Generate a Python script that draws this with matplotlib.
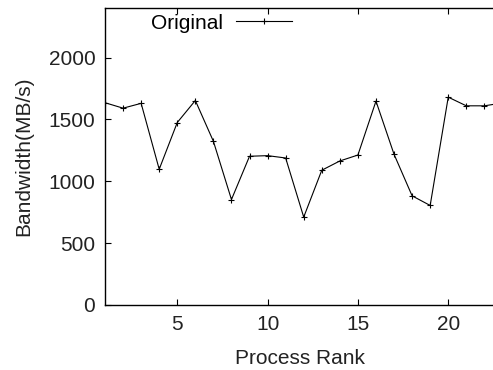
import matplotlib
matplotlib.use('Agg')
import matplotlib.pyplot as plt

plt.rcParams['font.family'] = ['Liberation Sans', 'DejaVu Sans']

rank = [1, 2, 3, 4, 5, 6, 7, 8, 9, 10, 11, 12, 13, 14, 15, 16, 17, 18, 19, 20, 21, 22, 23]
bandwidth = [1635, 1591, 1630, 1097, 1475, 1653, 1323, 852, 1202, 1207, 1188, 710,
             1089, 1164, 1212, 1648, 1218, 882, 804, 1680, 1610, 1610, 1633]

fig = plt.figure(figsize=(4.93, 3.7), dpi=100)
ax = fig.add_axes([0.213, 0.176, 0.79, 0.802])

ax.plot(rank, bandwidth, color='black', lw=0.8, marker='+', ms=5, mew=0.8, label='Original')

ax.set_xlim(1, 22.56)
ax.set_ylim(0, 2400)
ax.set_xticks([5, 10, 15, 20])
ax.set_yticks([0, 500, 1000, 1500, 2000])
ax.tick_params(direction='in', labelsize=15, top=True, length=4, width=0.8, pad=7, colors='black')
ax.tick_params(axis='both', labelcolor='#222222')
ax.spines['right'].set_visible(False)
for s in ['left', 'top', 'bottom']:
    ax.spines[s].set_linewidth(1.0)

ax.set_xlabel('Process Rank', fontsize=15, color='#222222', labelpad=11)
ax.set_ylabel('Bandwidth(MB/s)', fontsize=15, color='#222222', labelpad=11)

ax.legend(loc='upper left', bbox_to_anchor=(0.085, 1.024), frameon=False, markerfirst=False,
          fontsize=15, handlelength=2.7, handletextpad=0.65, borderaxespad=0.2)

fig.savefig('out.png', dpi=100)
